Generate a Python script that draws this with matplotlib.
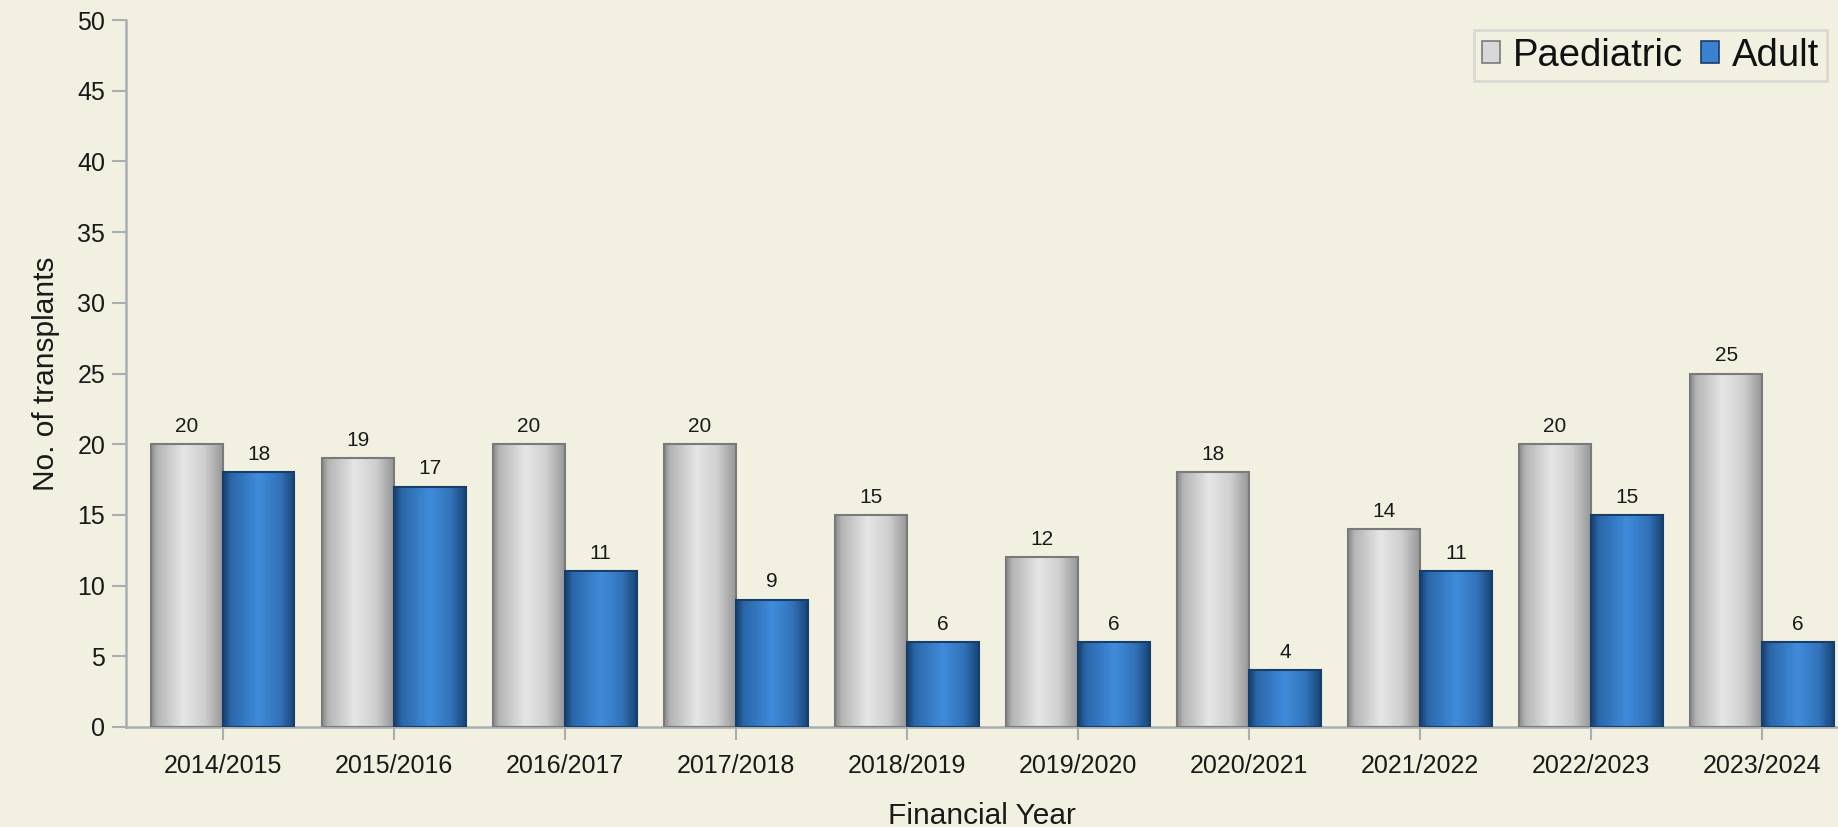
import numpy as np
import matplotlib
matplotlib.use("Agg")
import matplotlib.pyplot as plt
from matplotlib.patches import Patch

# ---- data ----
years = ["2014/2015", "2015/2016", "2016/2017", "2017/2018", "2018/2019",
         "2019/2020", "2020/2021", "2021/2022", "2022/2023", "2023/2024"]
paediatric = [20, 19, 20, 20, 15, 12, 18, 14, 20, 25]
adult = [18, 17, 11, 9, 6, 6, 4, 11, 15, 6]
yticks = [0, 5, 10, 15, 20, 25, 30, 35, 40, 45, 50]

plt.rcParams['font.family'] = ['Liberation Sans', 'DejaVu Sans']

BG = '#f2f0e0'
W, H = 1838, 827
fig = plt.figure(figsize=(W / 100, H / 100), dpi=100, facecolor=BG)
ax = fig.add_axes([126 / W, 100 / H, (W - 126) / W, 707 / H])
ax.set_facecolor(BG)


def gradient(stops_pos, stops_col, n=64):
    t = np.linspace(0, 1, n)
    cols = np.array([matplotlib.colors.to_rgb(c) for c in stops_col])
    arr = np.stack([np.interp(t, stops_pos, cols[:, k]) for k in range(3)], axis=-1)
    return arr[np.newaxis, :, :]


grey_grad = gradient([0, 0.08, 0.45, 0.75, 1.0],
                     ['#8a8a8a', '#b4b4b4', '#e6e6e6', '#cfcfcf', '#989898'])
blue_grad = gradient([0, 0.1, 0.5, 0.8, 1.0],
                     ['#163f70', '#2a66a8', '#418cdb', '#3272b8', '#184677'])

x = np.arange(len(years))
bw = 0.42
bars_p = ax.bar(x - bw / 2, paediatric, width=bw, facecolor='none',
                edgecolor='#7a7a7a', linewidth=1.5, zorder=3)
bars_a = ax.bar(x + bw / 2, adult, width=bw, facecolor='none',
                edgecolor='#173e68', linewidth=1.5, zorder=3)

for bars, grad in ((bars_p, grey_grad), (bars_a, blue_grad)):
    for b in bars:
        x0, y0 = b.get_x(), b.get_y()
        ax.imshow(grad, extent=[x0, x0 + b.get_width(), y0, y0 + b.get_height()],
                  aspect='auto', zorder=2, interpolation='bicubic')
    for b in bars:
        ax.annotate(f"{int(b.get_height())}",
                    (b.get_x() + b.get_width() / 2, b.get_height()),
                    xytext=(0, 6), textcoords='offset points',
                    ha='center', va='bottom', fontsize=15, color='#1a1a1a')

ax.set_xlim(-0.565, 9.444)
ax.set_ylim(0, 50)
ax.set_yticks(yticks)
ax.set_xticks(x)
ax.set_xticklabels(years)

axis_col = '#a9aeb3'
for s in ('top', 'right'):
    ax.spines[s].set_visible(False)
for s in ('left', 'bottom'):
    ax.spines[s].set_color(axis_col)
    ax.spines[s].set_linewidth(1.8)
ax.tick_params(axis='y', length=10, width=1.5, color=axis_col, labelsize=18,
               labelcolor='#1a1a1a', pad=5)
ax.tick_params(axis='x', length=9.5, width=1.5, color=axis_col, labelsize=18,
               labelcolor='#1a1a1a', pad=10)

ax.set_ylabel("No. of transplants", fontsize=21.5, color='#1a1a1a', labelpad=12)
ax.set_xlabel("Financial Year", fontsize=21.5, color='#1a1a1a', labelpad=17)

handles = [Patch(facecolor='#d8d8d8', edgecolor='#7a7a7a', linewidth=1.2),
           Patch(facecolor='#3a82d0', edgecolor='#173e68', linewidth=1.2)]
leg = fig.legend(handles, ["Paediatric", "Adult"], loc='upper left',
                 bbox_to_anchor=(1474 / W, 1 - 30 / H), bbox_transform=fig.transFigure,
                 ncol=2, fontsize=27.5, frameon=True, fancybox=False,
                 handlelength=0.48, handleheight=0.48, handletextpad=0.35,
                 columnspacing=0.45, borderpad=0.2, borderaxespad=0)
leg.get_frame().set_facecolor(BG)
leg.get_frame().set_edgecolor('#d4d4d0')
leg.get_frame().set_linewidth(2)
for t in leg.get_texts():
    t.set_color('#111111')

fig.savefig("out.png", dpi=100, facecolor=BG)
